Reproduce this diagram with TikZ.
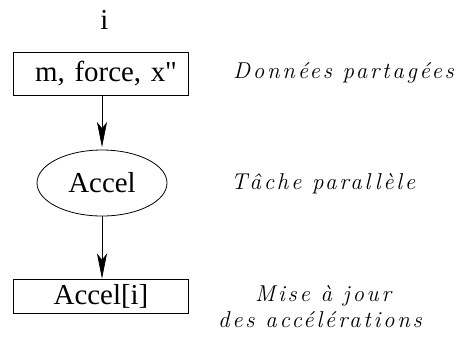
\documentclass[tikz,border=0pt]{standalone}
\usepackage{fontspec}
\setmainfont{Liberation Serif}[Ligatures=TeXOff]
\newfontfamily\cmtfont{Latin Modern Roman}[LetterSpace=12]
\usetikzlibrary{arrows.meta,shapes.geometric}
\tikzset{
  lbl/.style={font=\fontsize{29}{32}\selectfont, inner sep=0pt},
  sbox/.style={draw, line width=0.8bp, minimum width=175bp, inner ysep=0pt, font=\fontsize{29}{32}\selectfont},
  tsk/.style={draw, ellipse, line width=0.8bp, minimum width=130bp, minimum height=66bp, inner sep=0pt, font=\fontsize{29}{32}\selectfont},
  cmt/.style={font=\cmtfont\itshape\fontsize{23}{26}\selectfont, inner sep=0pt, anchor=base west},
  flow/.style={line width=0.7bp, -{Stealth[length=25bp,width=10bp,inset=6bp]}}
}
\begin{document}
\begin{tikzpicture}[x=1bp,y=-1bp]
\useasboundingbox (0,0) rectangle (461,336);
\node[lbl, anchor=base] (i) at (104.5,29) {i};
\node[sbox, minimum height=43bp, text width=153bp, inner xsep=11bp, align=right] (data) at (100.5,73.5) {m, force, x"};
\node[tsk] (task) at (102,183) {Accel};
\node[sbox, minimum height=34bp] (res) at (101,296) {Accel[i]};
\draw[flow, shorten >=2.5bp] (data.south -| task.north) -- (task.north);
\draw[flow] (task.south) -- (task.south |- res.north);
\node[cmt] (c1) at (233,78) {Données partagées};
\node[cmt] (c2) at (231,189) {Tâche parallèle};
\node[cmt] (c3) at (255,301) {Mise à jour};
\node[cmt] (c4) at (218,327) {des accélérations};
\end{tikzpicture}
\end{document}
